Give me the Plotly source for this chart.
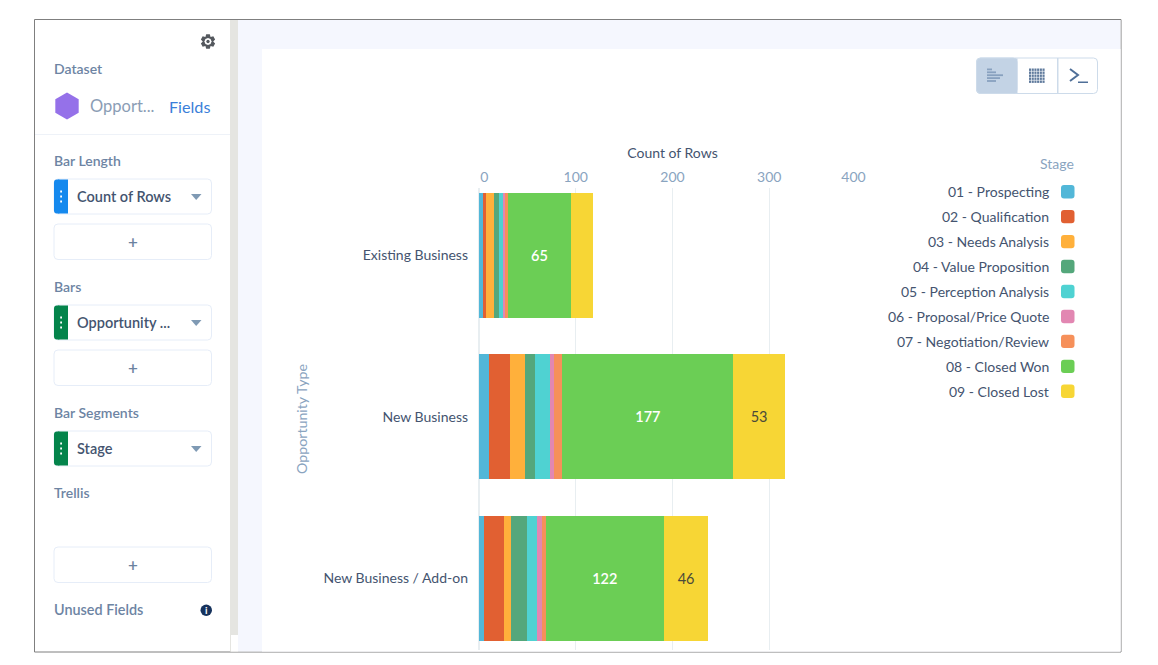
import math
import plotly.graph_objects as go

W, H = 1158, 665
CATEGORIES = ["Existing Business", "New Business", "New Business / Add-on"]
STAGES = ["01 - Prospecting", "02 - Qualification", "03 - Needs Analysis", "04 - Value Proposition",
          "05 - Perception Analysis", "06 - Proposal/Price Quote", "07 - Negotiation/Review",
          "08 - Closed Won", "09 - Closed Lost"]
COLORS = ["#52B7D8", "#E16032", "#FFB03B", "#54A77B", "#4FD2D2", "#E287B2", "#F6905A", "#6BCE55", "#F7D635"]
EXISTING = [4, 3, 9, 5, 4, 2, 3, 65, 23]
NEW = [10, 22, 16, 10, 15, 5, 8, 177, 53]
ADDON = [5, 21, 7, 17, 10, 5, 4, 122, 46]
X_TICKS = [0, 100, 200, 300, 400]
X_TICK_TEXT = ["\u00a0\u00a0\u00a00", "100", "200", "300", "400" + "\u00a0" * 7]

FONT = "Lato"
AXIS_BLUE = "#8aa4bf"
LABEL_BLUE = "#6d84a3"
DARK = "#44546f"
LIGHT_LINE = "#e6edf8"

def X(x): return x / W
def Y(y): return 1 - y / H

shapes, notes = [], []

def rect(x0, y0, x1, y1, fill, line=None, r=0, width=1):
    if r:
        p = (f"M{X(x0+r)},{Y(y0)} L{X(x1-r)},{Y(y0)} Q{X(x1)},{Y(y0)} {X(x1)},{Y(y0+r)} "
             f"L{X(x1)},{Y(y1-r)} Q{X(x1)},{Y(y1)} {X(x1-r)},{Y(y1)} L{X(x0+r)},{Y(y1)} "
             f"Q{X(x0)},{Y(y1)} {X(x0)},{Y(y1-r)} L{X(x0)},{Y(y0+r)} Q{X(x0)},{Y(y0)} {X(x0+r)},{Y(y0)} Z")
        s = dict(type="path", path=p)
    else:
        s = dict(type="rect", x0=X(x0), x1=X(x1), y0=Y(y0), y1=Y(y1))
    s.update(xref="paper", yref="paper", fillcolor=fill, layer="below",
             line=dict(color=line or "rgba(0,0,0,0)", width=width if line else 0))
    shapes.append(s)

def poly(pts, fill=None, line=None, width=1, close=True):
    p = "M" + " L".join(f"{X(a)},{Y(b)}" for a, b in pts) + (" Z" if close else "")
    shapes.append(dict(type="path", path=p, xref="paper", yref="paper", layer="below",
                       fillcolor=fill or "rgba(0,0,0,0)",
                       line=dict(color=line or "rgba(0,0,0,0)", width=width if line else 0)))

def text(x, y, t, size=13, color=LABEL_BLUE, anchor="left", weight=None, angle=0):
    f = dict(family=FONT, size=size, color=color)
    if weight: f["weight"] = weight
    notes.append(dict(x=X(x), y=Y(y), xref="paper", yref="paper", text=t, showarrow=False,
                      xanchor=anchor, yanchor="middle", font=f, textangle=angle, borderpad=0, borderwidth=0))

# page frame and panels
rect(34.5, 19.5, 1121, 652, "#ffffff", "#7f7f7f", width=1)
rect(230, 20, 238, 651.5, "#e5e5e1")
rect(231, 635, 238, 651.5, "#ffffff")
rect(238, 20, 1120.5, 651.5, "#f5f7fe")
rect(262, 49, 1120.5, 651.5, "#ffffff")
rect(35, 134, 230, 135, "#eef2f8")

# sidebar
text(54, 68, "Dataset", 14, LABEL_BLUE, weight=600)
text(90, 106.5, "Opport...", 16.5, "#8b9db5")
text(169, 106, "Fields", 16.2, "#3b7fd9")
text(54, 161, "Bar Length", 14, LABEL_BLUE, weight=600)
text(54, 286, "Bars", 14, LABEL_BLUE, weight=600)
text(54, 412, "Bar Segments", 14, LABEL_BLUE, weight=600)
text(54, 492, "Trellis", 14, LABEL_BLUE, weight=600)
text(54, 609, "Unused Fields", 14.4, LABEL_BLUE, weight=600)

cx, cy = 67, 106
poly([(cx + 13.5 * math.sin(math.radians(a)), cy - 13.5 * math.cos(math.radians(a))) for a in range(0, 360, 60)],
     fill="#9571E9")

# gear icon
gx, gy = 208, 41.5
gear = []
for k in range(6):
    base = k * 60 - 90
    for off, rad in ((-14, 7.4), (14, 7.4), (30, 5.2)):
        a = math.radians(base + off)
        gear.append((gx + rad * math.cos(a), gy + rad * math.sin(a)))
poly(gear, fill="#54585e")
poly([(gx + 3.6 * math.cos(math.radians(a)), gy + 3.6 * math.sin(math.radians(a))) for a in range(0, 360, 45)],
     fill="#ffffff")
poly([(gx + 1.7 * math.cos(math.radians(a)), gy + 1.7 * math.sin(math.radians(a))) for a in range(0, 360, 45)],
     fill="#54585e")

PILLS = [(179, "Count of Rows", "#1589EE"), (305, "Opportunity ...", "#04844B"), (431, "Stage", "#04844B")]
for top, label, col in PILLS:
    rect(54, top, 211.5, top + 35, "#ffffff", LIGHT_LINE, r=4)
    rect(54, top + 0.5, 61, top + 34.5, col, r=3)
    rect(58, top + 0.5, 68, top + 34.5, col)
    for d in (-5, 0, 5):
        rect(60.2, top + 17.5 + d - 0.9, 62, top + 17.5 + d + 0.9, "#ffffff")
    text(77, top + 17.2, label, 14.5, DARK, weight=600)
    poly([(191, top + 15), (201.5, top + 15), (196.2, top + 21)], fill="#7f9ab4")
for top, dy in ((224, 18), (350, 17), (547, 17)):
    rect(54, top, 211.5, top + 35.5, "#ffffff", LIGHT_LINE, r=4)
    text(132.5, top + dy, "+", 17, "#6b82a0", anchor="center", weight=600)

shapes.append(dict(type="circle", xref="paper", yref="paper", layer="below", x0=X(200.5), x1=X(212), y0=Y(604.5), y1=Y(616),
                   fillcolor="#16325c", line=dict(width=0)))
text(206.2, 610, "i", 10, "#ffffff", anchor="center", weight=700)

# toolbar
rect(976.5, 58, 1097.5, 93.5, "#ffffff", "#cddbea", r=4)
rect(976.5, 58, 1017, 93.5, "#c3d3e5", "#cddbea", r=4)
rect(1010, 58.5, 1017.5, 93, "#c3d3e5")
rect(1057, 58, 1058.5, 93.5, "#cddbea")
for i, w in enumerate((5, 9, 16, 13, 9)):
    rect(987, 68.5 + i * 2.9, 987 + w, 70.3 + i * 2.9, "#88a1bf")
for r_ in range(5):
    for c_ in range(6):
        rect(1029 + c_ * 2.7, 68.5 + r_ * 3, 1031.1 + c_ * 2.7, 70.9 + r_ * 3, "#5f7a9c")
poly([(1070, 69), (1078, 75), (1070, 81)], line="#4f6f98", width=2, close=False)
rect(1078, 81.5, 1088, 83, "#4f6f98")

# legend, drawn with swatches to the right of right-aligned labels
text(1074, 164, "Stage", 14, AXIS_BLUE, anchor="right")
for i, (name, col) in enumerate(zip(STAGES, COLORS)):
    yy = 191.7 + i * 24.95
    text(1049, yy, name, 14, DARK, anchor="right")
    rect(1061, yy - 6.7, 1074.5, yy + 6.7, col, r=3)

# chart
fig = go.Figure()
for i, (name, col) in enumerate(zip(STAGES, COLORS)):
    vals = [EXISTING[i], NEW[i], ADDON[i]]
    fig.add_trace(go.Bar(
        y=CATEGORIES, x=vals, name=name, orientation="h", marker=dict(color=col, line=dict(width=0)),
        text=[str(v) if v >= 40 else "" for v in vals], textposition="inside", insidetextanchor="middle",
        textangle=0, constraintext="none",
        textfont=dict(family=FONT, size=14.5, color="#ffffff" if i == 7 else "#4a4a3a", weight=600 if i == 7 else 400),
        showlegend=False))

fig.update_layout(
    width=W, height=H, margin=dict(l=0, r=0, t=0, b=0, autoexpand=False), autosize=False,
    paper_bgcolor="#ffffff", plot_bgcolor="rgba(0,0,0,0)", barmode="stack", bargap=0.226,
    font=dict(family=FONT), shapes=shapes, annotations=notes, showlegend=False,
    xaxis=dict(domain=[X(479), X(866)], range=[0, 400], side="top", anchor="y", tickvals=X_TICKS,
               ticktext=X_TICK_TEXT, tickfont=dict(family=FONT, size=14, color=AXIS_BLUE), ticks="",
               showgrid=True, gridcolor="#e8eef1", gridwidth=1, zeroline=True, zerolinecolor="#e8eef1",
               showline=False, ticklabelstandoff=2,
               title=dict(text="Count of Rows", font=dict(family=FONT, size=14, color=DARK), standoff=6)),
    yaxis=dict(domain=[Y(650), Y(188)], range=[2.443, -0.418], type="category", anchor="x",
               categoryorder="array", categoryarray=CATEGORIES,
               tickfont=dict(family=FONT, size=14, color=DARK), ticks="", showgrid=False, zeroline=False,
               showline=False, ticklabelstandoff=10,
               title=dict(text="\u00a0\u00a0\u00a0Opportunity Type", font=dict(family=FONT, size=14.2, color=AXIS_BLUE), standoff=12)),
)

fig.write_html("out.html", post_script="document.body.style.margin='0';document.body.style.overflow='hidden';",
               config=dict(displayModeBar=False))
